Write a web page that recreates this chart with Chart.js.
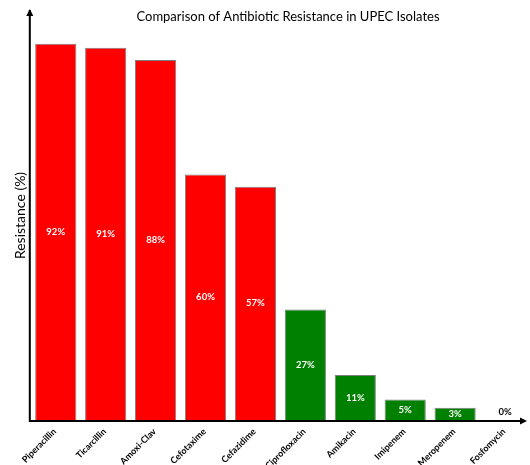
<!DOCTYPE html>
<html>
<head>
<meta charset="utf-8">
<script src="https://cdn.jsdelivr.net/npm/chart.js@4.4.1/dist/chart.umd.min.js"></script>
<style>
  html, body { margin: 0; padding: 0; background: #fff; }
  #wrap { width: 530px; height: 465px; position: relative; }
</style>
</head>
<body>
<div id="wrap"><canvas id="c" width="530" height="465"></canvas></div>
<script>
// Antibiotic resistance among UPEC isolates (%)
const antibiotics = ['Piperacillin', 'Ticarcillin', 'Amoxi-Clav', 'Cefotaxime', 'Cefazidime',
                     'Ciprofloxacin', 'Amikacin', 'Imipenem', 'Meropenem', 'Fosfomycin'];
const resistance = [92, 91, 88, 60, 57, 27, 11, 5, 3, 0];
const highResistance = [true, true, true, true, true, false, false, false, false, false];

const chartTitle = 'Comparison of Antibiotic Resistance in UPEC Isolates';
const yTitle = 'Resistance (%)';

const FONT = 'Lato, "Open Sans", sans-serif';

// Axis lines with arrow heads
const arrowAxes = {
  id: 'arrowAxes',
  afterDatasetsDraw(chart) {
    const { ctx, chartArea: a } = chart;
    const x0 = a.left - 1, y0 = a.bottom + 1;
    const xEnd = chart.width - 3;
    ctx.save();
    ctx.strokeStyle = '#000';
    ctx.fillStyle = '#000';
    ctx.lineWidth = 2;
    ctx.beginPath();
    ctx.moveTo(x0, y0);
    ctx.lineTo(x0, a.top - 1);
    ctx.moveTo(x0 - 1, y0);
    ctx.lineTo(xEnd - 4, y0);
    ctx.stroke();
    // up arrow
    ctx.beginPath();
    ctx.moveTo(x0, a.top - 2);
    ctx.lineTo(x0 - 3.5, a.top + 5);
    ctx.lineTo(x0 + 3.5, a.top + 5);
    ctx.closePath();
    ctx.fill();
    // right arrow
    ctx.beginPath();
    ctx.moveTo(xEnd, y0);
    ctx.lineTo(xEnd - 7, y0 - 3.5);
    ctx.lineTo(xEnd - 7, y0 + 3.5);
    ctx.closePath();
    ctx.fill();
    ctx.restore();
  }
};

// Category names, slanted at 45 degrees under each bar
const slantedLabels = {
  id: 'slantedLabels',
  afterDraw(chart) {
    const { ctx, chartArea: a } = chart;
    const xs = chart.scales.x;
    ctx.save();
    ctx.font = 'bold 9px ' + FONT;
    ctx.fillStyle = '#000';
    ctx.textAlign = 'right';
    ctx.textBaseline = 'middle';
    antibiotics.forEach((name, i) => {
      const x = xs.getPixelForTick(i);
      ctx.save();
      ctx.translate(x - 1, a.bottom + 10);
      ctx.rotate(-Math.PI / 4);
      ctx.fillText(name, 0, 0);
      ctx.restore();
    });
    ctx.restore();
  }
};

// Percentage labels in the middle of each bar
const barLabels = {
  id: 'barLabels',
  afterDatasetsDraw(chart) {
    const { ctx } = chart;
    const meta = chart.getDatasetMeta(0);
    ctx.save();
    ctx.font = 'bold 9.5px ' + FONT;
    ctx.textAlign = 'center';
    ctx.textBaseline = 'middle';
    meta.data.forEach((bar, i) => {
      const v = resistance[i];
      const props = bar.getProps(['x', 'y', 'base'], true);
      if (v > 0) {
        ctx.fillStyle = '#fff';
        ctx.fillText(v + '%', props.x, (props.y + props.base) / 2);
      } else {
        ctx.fillStyle = '#000';
        ctx.fillText(v + '%', props.x, props.base - 8);
      }
    });
    ctx.restore();
  }
};

// Title drawn over the top of the plot
const topTitle = {
  id: 'topTitle',
  afterDraw(chart) {
    const { ctx } = chart;
    ctx.save();
    ctx.font = '13px ' + FONT;
    ctx.fillStyle = '#000';
    ctx.textAlign = 'center';
    ctx.textBaseline = 'middle';
    ctx.fillText(chartTitle, 288, 17);
    ctx.restore();
  }
};

new Chart(document.getElementById('c'), {
  type: 'bar',
  data: {
    labels: antibiotics,
    datasets: [{
      data: resistance,
      backgroundColor: highResistance.map(h => h ? '#ff0000' : '#008000'),
      borderColor: '#7f7f7f',
      borderWidth: 1,
      barPercentage: 0.825,
      categoryPercentage: 1.0
    }]
  },
  options: {
    responsive: false,
    animation: false,
    layout: { padding: { top: 11, left: 8, right: 0, bottom: 0 } },
    plugins: {
      legend: { display: false },
      title: { display: false },
      tooltip: { enabled: false }
    },
    scales: {
      x: {
        grid: { display: false, drawTicks: false },
        border: { display: false },
        afterFit(scale) { scale.height = 45; },
        ticks: { display: false }
      },
      y: {
        min: 0,
        max: 100,
        grid: { display: false, drawTicks: false },
        border: { display: false },
        ticks: { display: false },
        title: {
          display: true,
          text: yTitle,
          color: '#000',
          font: { family: FONT, size: 14 },
          padding: { top: 4, bottom: 2 }
        }
      }
    }
  },
  plugins: [arrowAxes, slantedLabels, barLabels, topTitle]
});
</script>
</body>
</html>
